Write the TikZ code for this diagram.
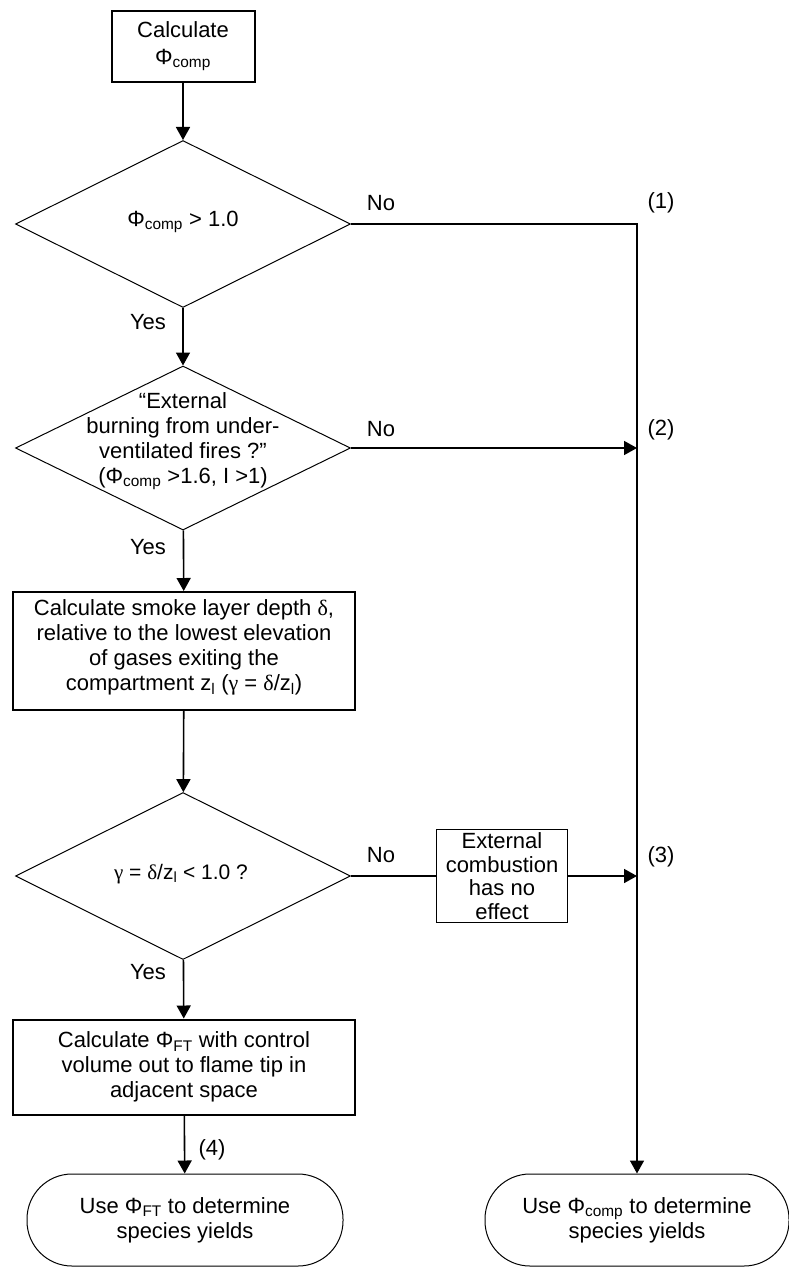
\documentclass[tikz,border=0pt]{standalone}
\usepackage{fontspec}
\setmainfont{Liberation Sans}
\newfontfamily\grk{Liberation Serif}
\usetikzlibrary{shapes.geometric,arrows.meta}
\newcommand{\PhiC}{Φ\textsubscript{comp}}
\newcommand{\PhiFT}{Φ\textsubscript{FT}}
\begin{document}
\begin{tikzpicture}[x=1pt,y=-1pt,
  every node/.style={font=\fontsize{22}{25}\selectfont},
  box/.style={draw, line width=2pt, align=center, inner sep=0pt},
  dec/.style={draw, diamond, line width=1pt, inner sep=0pt},
  term/.style={draw, rounded corners=45pt, line width=1pt, align=center, inner sep=0pt},
  conn/.style={line width=1.6pt},
  arr/.style={conn, -{Triangle[length=13pt,width=14pt]}},
  lbl/.style={inner sep=0pt, align=center}]
\fill[white] (0,0) rectangle (789,1267);
\useasboundingbox (0,0) rectangle (789,1267);

% nodes
\node[box, minimum width=143pt, minimum height=71pt] (b1) at (183,46) {Calculate\\[2pt]\PhiC};

\node[dec, minimum width=335pt, minimum height=167pt] (d1) at (183,224) {};
\node[lbl] (d1t) at (183,222) {\PhiC{} > 1.0};

\node[dec, minimum width=335pt, minimum height=164pt] (d2) at (183,448) {};
\node[lbl] (d2t) at (183,441) {“External\\burning from under-\\ventilated fires ?”\\(\PhiC{} >1.6, I >1)};

\node[box, minimum width=342pt, minimum height=118pt] (b3) at (184,651) {};
\node[lbl] (b3t) at (184,647) {Calculate smoke layer depth {\grk δ},\\relative to the lowest elevation\\of gases exiting the\\compartment z\textsubscript{l} ({\grk γ} = {\grk δ}/z\textsubscript{l})};

\node[dec, minimum width=335pt, minimum height=167pt] (d3) at (183,876) {};
\node[lbl, font=\fontsize{21}{24}\selectfont] (d3t) at (181,874) {{\grk γ} = {\grk δ}/z\textsubscript{l} < 1.0 ?};

\node[box, line width=1.6pt, minimum width=131pt, minimum height=93pt, font=\fontsize{22}{23.5}\selectfont] (b4) at (502,876) {External\\combustion\\has no\\effect};

\node[box, minimum width=342pt, minimum height=95pt] (b5) at (184,1067) {Calculate \PhiFT{} with control\\volume out to flame tip in\\adjacent space};

\node[term, minimum width=316pt, minimum height=92pt] (t1) at (185,1220) {Use \PhiFT{} to determine\\species yields};
\node[term, minimum width=304pt, minimum height=92pt] (t2) at (637,1220) {Use \PhiC{} to determine\\species yields};

% labels
\node[lbl] (no1) at (381,203) {No};
\node[lbl] (no2) at (381,429) {No};
\node[lbl] (no3) at (381,855) {No};
\node[lbl] (yes1) at (148,322) {Yes};
\node[lbl] (yes2) at (148,547) {Yes};
\node[lbl] (yes3) at (148,972) {Yes};
\node[lbl] (n1) at (661,203) {(1)};
\node[lbl] (n2) at (661,430) {(2)};
\node[lbl] (n3) at (661,857) {(3)};
\node[lbl] (n4) at (212,1150) {(4)};

% connectors
\coordinate (j1) at (637,224);
\draw[arr] (b1) -- (d1);
\draw[arr] (d1) -- (d2);
\draw[arr] (d2) -- (b3);
\draw[arr] (b3) -- (d3);
\draw[arr] (d3) -- (b5);
\draw[arr] (b5) -- (t1);
\draw[arr] (d1.east) -- (j1) -- (t2.north);
\draw[arr] (d2.east) -- (d2.east -| j1);
\draw[conn] (d3.east) -- (b4.west);
\draw[arr] (b4.east) -- (b4.east -| j1);
\end{tikzpicture}
\end{document}
